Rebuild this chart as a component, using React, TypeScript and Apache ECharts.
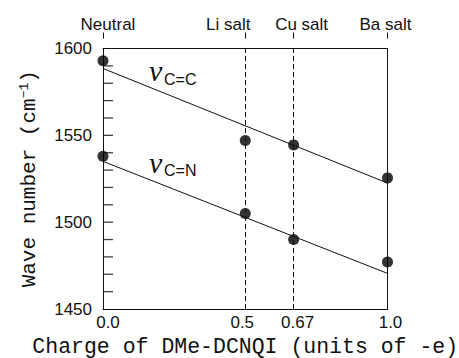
import React, { useEffect, useRef } from "react";
import * as echarts from "echarts";

// Data
const xCharge = [0, 0.5, 0.67, 1.0];
const xTickLabels = ["0.0", "0.5", "0.67", "1.0"];
const saltLabels = ["Neutral", "Li salt", "Cu salt", "Ba salt"];
const ccValues = [1593, 1547, 1544.5, 1525.5];
const cnValues = [1538, 1505, 1490, 1477];
const fitX = [0, 1.0];
const ccFit = [1588.5, 1522.5];
const cnFit = [1535, 1470.5];
const dashedX = [0.5, 0.67];
const yTickValues = [1460, 1470, 1480, 1490, 1500, 1510, 1520, 1530, 1540, 1550, 1560, 1570, 1580, 1590];

const SANS = "Liberation Sans";
const MONO = "Liberation Mono";

const topShift = [5, -17, 8, -2];
const bottomShift = [5, -3, 4, 3];

function idxOf(v: number) {
  return xCharge.findIndex((c) => Math.abs(c - v) < 1e-6);
}

function padFor(s: number) {
  return s >= 0 ? [0, 0, 0, 2 * s] : [0, -2 * s, 0, 0];
}

export default function App() {
  const ref = useRef<HTMLDivElement>(null);
  useEffect(() => {
    document.body.style.margin = "0";
    const chart = echarts.init(ref.current!, null, { renderer: "svg" });
    const topRich: any = {};
    const botRich: any = {};
    xCharge.forEach((_, i) => {
      topRich["t" + i] = { fontFamily: SANS, fontSize: 17, color: "#111", padding: padFor(topShift[i]) };
      botRich["b" + i] = { fontFamily: SANS, fontSize: 17, color: "#111", padding: padFor(bottomShift[i]) };
    });
    const line = { show: true, onZero: false, lineStyle: { color: "#111", width: 1 } };
    chart.setOption({
      animation: false,
      backgroundColor: "#fff",
      grid: { left: 103, top: 48.5, width: 284.5, height: 260.5, outerBoundsMode: "none", containLabel: false },
      xAxis: [
        {
          type: "value",
          min: 0,
          max: 1,
          position: "bottom",
          axisLine: line,
          axisTick: { show: false },
          splitLine: { show: false },
          axisLabel: {
            customValues: xCharge,
            margin: 5,
            formatter: (v: number) => {
              const i = idxOf(v);
              return i < 0 ? "" : `{b${i}|${xTickLabels[i]}}`;
            },
            rich: botRich,
          },
          name: "Charge of DMe-DCNQI (units of -e)",
          nameLocation: "middle",
          nameGap: 26,
          nameTextStyle: { fontFamily: MONO, fontSize: 21.5, color: "#111" },
        },
        {
          type: "value",
          min: 0,
          max: 1,
          position: "top",
          offset: 10,
          axisLine: { show: false, onZero: false },
          axisTick: { show: true, customValues: xCharge, length: 6, lineStyle: { color: "#111", width: 1 } },
          splitLine: { show: false },
          axisLabel: {
            customValues: xCharge,
            margin: 6,
            formatter: (v: number) => {
              const i = idxOf(v);
              return i < 0 ? "" : `{t${i}|${saltLabels[i]}}`;
            },
            rich: topRich,
          },
        },
        {
          type: "value",
          min: 0,
          max: 1,
          position: "top",
          offset: 0,
          axisLine: line,
          axisTick: { show: false },
          axisLabel: { show: false },
          splitLine: { show: false },
        },
      ],
      yAxis: [
        {
          type: "value",
          min: 1450,
          max: 1600,
          interval: 50,
          position: "left",
          axisLine: line,
          axisTick: { show: false },
          splitLine: { show: false },
          axisLabel: { fontFamily: SANS, fontSize: 17, color: "#111", margin: 11, formatter: (v: number) => String(v) },
          name: "{a|Wave number (cm}{s|−1}{a|)}",
          nameLocation: "middle",
          nameRotate: 90,
          nameGap: 62,
          nameTextStyle: {
            rich: {
              a: { fontFamily: MONO, fontSize: 21, color: "#111" },
              s: { fontFamily: MONO, fontSize: 13, color: "#111", verticalAlign: "top", padding: [0, 0, 10, 0] },
            },
          },
        },
        {
          type: "value",
          min: 1450,
          max: 1600,
          interval: 50,
          position: "right",
          axisLine: line,
          axisTick: { show: false },
          axisLabel: { show: false },
          splitLine: { show: false },
        },
      ],
      series: [
        {
          type: "line",
          data: fitX.map((x, i) => [x, ccFit[i]]),
          symbol: "none",
          lineStyle: { color: "#111", width: 1 },
          markLine: {
            silent: true,
            symbol: "none",
            label: { show: false },
            lineStyle: { color: "#111", width: 1, type: [5, 3] },
            data: dashedX.map((x) => ({ xAxis: x })),
          },
        },
        {
          type: "line",
          data: fitX.map((x, i) => [x, cnFit[i]]),
          symbol: "none",
          lineStyle: { color: "#111", width: 1 },
        },
        {
          // inward ticks on the left axis, drawn as thin rect symbols
          type: "scatter",
          silent: true,
          clip: false,
          data: yTickValues.map((v) => [0, v]),
          symbol: "rect",
          symbolSize: [10, 1.3],
          symbolOffset: [5, 0],
          itemStyle: { color: "#111" },
          z: 5,
        },
        {
          type: "scatter",
          data: xCharge.map((x, i) => [x, ccValues[i]]),
          symbol: "circle",
          symbolSize: 11,
          itemStyle: { color: "#000" },
        },
        {
          type: "scatter",
          data: xCharge.map((x, i) => [x, cnValues[i]]),
          symbol: "circle",
          symbolSize: 11,
          itemStyle: { color: "#000" },
        },
      ],
      graphic: [
        { type: "text", x: 149, y: 70, style: { text: "ν", font: "italic 30px 'Liberation Serif'", fill: "#111", verticalAlign: "middle" } },
        { type: "text", x: 164, y: 79, style: { text: "C=C", font: "16px 'Liberation Sans'", fill: "#111", verticalAlign: "middle" } },
        { type: "text", x: 149, y: 162, style: { text: "ν", font: "italic 30px 'Liberation Serif'", fill: "#111", verticalAlign: "middle" } },
        { type: "text", x: 164, y: 170.5, style: { text: "C=N", font: "16px 'Liberation Sans'", fill: "#111", verticalAlign: "middle" } },
      ],
    });
    return () => chart.dispose();
  }, []);
  return <div ref={ref} style={{ width: 459, height: 358 }} />;
}
